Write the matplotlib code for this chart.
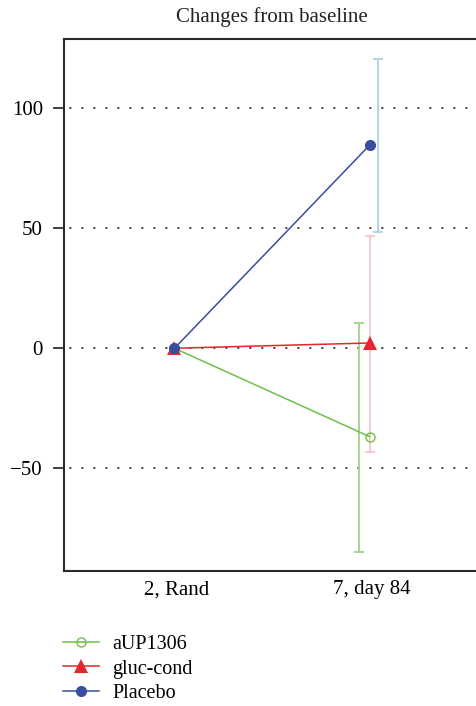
import matplotlib
matplotlib.use("Agg")
import matplotlib.pyplot as plt
import numpy as np

plt.rcParams['font.family'] = ['Liberation Serif', 'DejaVu Serif']

categories = ["2, Rand", "7, day 84"]
series_names = ["aUP1306", "gluc-cond", "Placebo"]
means = {
    "aUP1306": [0, -36.8],
    "gluc-cond": [0, 2.2],
    "Placebo": [0, 84.6],
}
err_low = {   # lower bound of interval at day 84
    "aUP1306": -84.7,
    "gluc-cond": -43.1,
    "Placebo": 48.6,
}
err_high = {
    "aUP1306": 10.7,
    "gluc-cond": 46.8,
    "Placebo": 120.5,
}
yticks = [-50, 0, 50, 100]

line_colors = {"aUP1306": "#6dbf4b", "gluc-cond": "#e8242c", "Placebo": "#3a4d9f"}
err_colors = {"aUP1306": "#9cd487", "gluc-cond": "#f5c5cf", "Placebo": "#a8d2e2"}
markers = {"aUP1306": dict(marker="o", mfc="none", ms=6.5, mew=1.0),
           "gluc-cond": dict(marker="^", ms=10, mew=0),
           "Placebo": dict(marker="o", ms=8, mew=0)}
err_offset = {"aUP1306": -0.055, "gluc-cond": 0.0, "Placebo": 0.045}
zorders = {"aUP1306": 3, "gluc-cond": 4, "Placebo": 5}

fig = plt.figure(figsize=(4.77, 7.06), dpi=100)
ax = fig.add_axes([0.1335, 0.1916, 0.8665, 0.7536])

x = np.arange(len(categories))
handles = []
for name in series_names:
    xe = x[-1] + err_offset[name] - 0.01
    ax.errorbar([xe], [(err_low[name] + err_high[name]) / 2],
                yerr=[[(err_high[name] - err_low[name]) / 2]],
                fmt="none", ecolor=err_colors[name], elinewidth=1.3,
                capsize=3.5, capthick=1.3, zorder=2)
    h, = ax.plot(x - 0.01, means[name], color=line_colors[name], lw=1.1,
                 mfc=markers[name].get("mfc", line_colors[name]),
                 mec=line_colors[name], zorder=zorders[name],
                 **{k: v for k, v in markers[name].items() if k != "mfc"})
    handles.append(h)

ax.set_xlim(-0.578, 1.541)
ax.set_ylim(-92.7, 129.0)
ax.set_xticks(x)
ax.set_xticklabels(categories, fontsize=15)
ax.set_yticks(yticks)
ax.set_yticklabels([("\u2212" + str(-t)) if t < 0 else str(t) for t in yticks], fontsize=15)
ax.tick_params(axis="x", length=0, pad=7)
ax.tick_params(axis="y", length=8, width=1.3, color="#333333", pad=7)
for t in yticks:
    ax.axhline(t, color="#222222", lw=1.2, ls=(4, (1.2, 6)), zorder=1)
for s in ["left", "top", "bottom"]:
    ax.spines[s].set_linewidth(1.5)
    ax.spines[s].set_color("#2a2a2a")
ax.spines["right"].set_visible(False)

fig.text(0.569, 0.976, "Changes from baseline", ha="center", va="center", fontsize=15,
         color="#222222")

fig.legend(handles, series_names, loc="upper left", bbox_to_anchor=(0.132, 0.101),
           frameon=False, fontsize=14.5, handlelength=1.8, handletextpad=0.65,
           labelspacing=0.28, borderaxespad=0, borderpad=0)

fig.savefig("out.png", dpi=100)
